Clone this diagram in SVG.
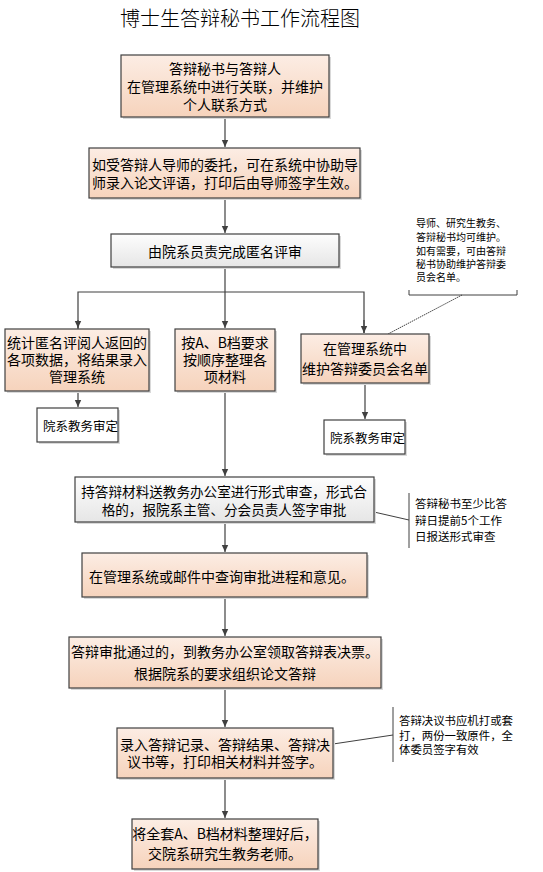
<svg xmlns="http://www.w3.org/2000/svg" width="543" height="872" viewBox="0 0 543 872">
<defs>
<linearGradient id="peach" x1="0" y1="0" x2="0" y2="1">
<stop offset="0" stop-color="#fcede4"/>
<stop offset="1" stop-color="#f6d3bc"/>
</linearGradient>
<linearGradient id="grey" x1="0" y1="0" x2="0" y2="1">
<stop offset="0" stop-color="#fdfdfd"/>
<stop offset="1" stop-color="#e6e6e6"/>
</linearGradient>
<marker id="arr" markerWidth="8" markerHeight="8" refX="7" refY="4" orient="auto" markerUnits="userSpaceOnUse">
<path d="M0,0.8 L7,4 L0,7.2 Z" fill="#404040"/>
</marker>
</defs>
<style>
.p{fill:url(#peach);stroke:#404040;stroke-width:1.2}
.g{fill:url(#grey);stroke:#404040;stroke-width:1.2}
.w{fill:#ffffff;stroke:#404040;stroke-width:1.2}
.sh{fill:#d9d9d9}
text{font-family:"Noto Sans CJK SC","Liberation Sans",sans-serif;fill:#000;text-anchor:middle;dominant-baseline:central}
.t{font-size:14px}
.s{font-size:12px;text-anchor:start}
.xs{font-size:10px;text-anchor:start}
.c{stroke:#404040;stroke-width:1.2;fill:none}
.cm{stroke:#404040;stroke-width:1;fill:none}
</style>
<rect width="543" height="872" fill="#ffffff"/>
<text x="240" y="17" style="font-size:20px;font-family:'Noto Sans CJK SC',sans-serif;font-weight:300">博士生答辩秘书工作流程图</text>

<g id="connectors">
<line class="c" x1="225" y1="117" x2="225" y2="147" marker-end="url(#arr)"/>
<line class="c" x1="225" y1="198" x2="225" y2="233" marker-end="url(#arr)"/>
<line class="c" x1="225" y1="267" x2="225" y2="328" marker-end="url(#arr)"/>
<polyline class="c" points="78,329 78,292 364,292 364,333" />
<line class="c" x1="78" y1="320" x2="78" y2="328" marker-end="url(#arr)"/>
<line class="c" x1="364" y1="320" x2="364" y2="333" marker-end="url(#arr)"/>
<line class="c" x1="78" y1="391" x2="78" y2="407" marker-end="url(#arr)"/>
<line class="c" x1="365" y1="383" x2="365" y2="419" marker-end="url(#arr)"/>
<line class="c" x1="225" y1="391" x2="225" y2="476" marker-end="url(#arr)"/>
<line class="c" x1="225" y1="522" x2="225" y2="552" marker-end="url(#arr)"/>
<line class="c" x1="225" y1="597" x2="225" y2="636" marker-end="url(#arr)"/>
<line class="c" x1="225" y1="688" x2="225" y2="727" marker-end="url(#arr)"/>
<line class="c" x1="225" y1="778" x2="225" y2="818" marker-end="url(#arr)"/>
<line class="cm" x1="462" y1="295" x2="388" y2="334" stroke-dasharray="1.5,0.8"/>
<line class="cm" x1="374" y1="512" x2="409" y2="520"/>
<line class="cm" x1="333" y1="744" x2="393" y2="735"/>
</g>

<g id="n1">
<rect class="sh" x="123" y="57" width="208" height="62"/>
<rect class="p" x="121" y="55" width="208" height="62"/>
<text class="t"><tspan x="225" y="68">答辩秘书与答辩人</tspan><tspan x="225" y="86">在管理系统中进行关联，并维护</tspan><tspan x="225" y="104">个人联系方式</tspan></text>
</g>
<g id="n2">
<rect class="sh" x="91" y="150" width="271" height="50"/>
<rect class="p" x="89" y="148" width="271" height="50"/>
<text class="t"><tspan x="225" y="164">如受答辩人导师的委托，可在系统中协助导</tspan><tspan x="225" y="182">师录入论文评语，打印后由导师签字生效。</tspan></text>
</g>
<g id="n3">
<rect class="sh" x="113" y="236" width="228" height="33"/>
<rect class="g" x="111" y="234" width="228" height="33"/>
<text class="t" x="225" y="251">由院系员责完成匿名评审</text>
</g>
<g id="n4">
<rect class="sh" x="7" y="331" width="144" height="62"/>
<rect class="p" x="5" y="329" width="144" height="62"/>
<text class="t"><tspan x="77" y="342">统计匿名评阅人返回的</tspan><tspan x="77" y="359">各项数据，将结果录入</tspan><tspan x="77" y="376">管理系统</tspan></text>
</g>
<g id="n5">
<rect class="sh" x="177" y="331" width="100" height="62"/>
<rect class="p" x="175" y="329" width="100" height="62"/>
<text class="t"><tspan x="225" y="342">按A、B档要求</tspan><tspan x="225" y="359">按顺序整理各</tspan><tspan x="225" y="376">项材料</tspan></text>
</g>
<g id="n6">
<rect class="sh" x="303" y="336" width="128" height="49"/>
<rect class="p" x="301" y="334" width="128" height="49"/>
<text class="t"><tspan x="365" y="348">在管理系统中</tspan><tspan x="365" y="368">维护答辩委员会名单</tspan></text>
</g>
<g id="n7">
<rect class="sh" x="39" y="410" width="81" height="34"/>
<rect class="w" x="37" y="408" width="81" height="34"/>
<text class="s" x="43" y="425" style="font-size:12.5px">院系教务审定</text>
</g>
<g id="n8">
<rect class="sh" x="326" y="422" width="81" height="34"/>
<rect class="w" x="324" y="420" width="81" height="34"/>
<text class="s" x="330" y="437" style="font-size:12.5px">院系教务审定</text>
</g>
<g id="note1">
<polyline class="cm" points="409,290 409,295 517,295 517,290"/>
<text class="xs"><tspan x="416" y="222">导师、研究生教务、</tspan><tspan x="416" y="236">答辩秘书均可维护。</tspan><tspan x="416" y="250">如有需要，可由答辩</tspan><tspan x="416" y="263">秘书协助维护答辩委</tspan><tspan x="416" y="276">员会名单。</tspan></text>
</g>
<g id="n9">
<rect class="sh" x="77" y="479" width="299" height="45"/>
<rect class="g" x="75" y="477" width="299" height="45"/>
<text class="t" style="font-size:13.6px"><tspan x="224" y="491">持答辩材料送教务办公室进行形式审查，形式合</tspan><tspan x="224" y="509">格的，报院系主管、分会员责人签字审批</tspan></text>
</g>
<g id="note2">
<line class="cm" x1="409" y1="493" x2="409" y2="548"/>
<text class="s" style="font-size:11.5px"><tspan x="415" y="503">答辩秘书至少比答</tspan><tspan x="415" y="520">辩日提前5个工作</tspan><tspan x="415" y="536">日报送形式审查</tspan></text>
</g>
<g id="n10">
<rect class="sh" x="84" y="555" width="285" height="44"/>
<rect class="p" x="82" y="553" width="285" height="44"/>
<text class="t" x="222" y="576">在管理系统或邮件中查询审批进程和意见。</text>
</g>
<g id="n11">
<rect class="sh" x="71" y="639" width="312" height="51"/>
<rect class="p" x="69" y="637" width="312" height="51"/>
<text class="t"><tspan x="225" y="651">答辩审批通过的，到教务办公室领取答辩表决票。</tspan><tspan x="225" y="673">根据院系的要求组织论文答辩</tspan></text>
</g>
<g id="n12">
<rect class="sh" x="119" y="730" width="216" height="50"/>
<rect class="p" x="117" y="728" width="216" height="50"/>
<text class="t"><tspan x="225" y="744">录入答辩记录、答辩结果、答辩决</tspan><tspan x="225" y="761">议书等，打印相关材料并签字。</tspan></text>
</g>
<g id="note3">
<line class="cm" x1="393" y1="707" x2="393" y2="762"/>
<text class="s" style="font-size:11.4px"><tspan x="399" y="720">答辩决议书应机打或套</tspan><tspan x="399" y="735">打，两份一致原件，全</tspan><tspan x="399" y="749">体委员签字有效</tspan></text>
</g>
<g id="n13">
<rect class="sh" x="134" y="821" width="186" height="50"/>
<rect class="p" x="132" y="819" width="186" height="50"/>
<text class="t"><tspan x="225" y="833">将全套A、B档材料整理好后，</tspan><tspan x="225" y="853">交院系研究生教务老师。</tspan></text>
</g>
</svg>
